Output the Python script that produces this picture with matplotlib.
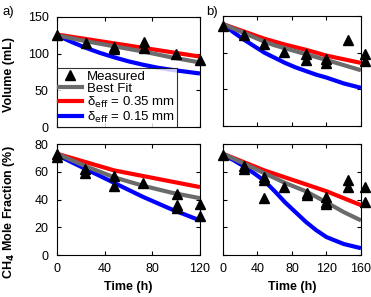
import matplotlib
matplotlib.use('Agg')
import matplotlib.pyplot as plt
from matplotlib.lines import Line2D

plt.rcParams['font.family'] = ['Liberation Sans', 'DejaVu Sans']
plt.rcParams['font.size'] = 9

# measured points (time h, value)
vol_a_t = [0, 24, 48, 48, 73, 73, 100, 120]
vol_a_y = [125, 115, 109, 106, 116, 108, 100, 91]
vol_b_t = [0, 24, 48, 71, 96, 96, 120, 120, 145, 165, 165]
vol_b_y = [137, 124, 112, 101, 98, 90, 92, 86, 117, 98, 88]
ch4_a_t = [0, 0, 23, 23, 48, 48, 72, 101, 101, 101, 120, 120]
ch4_a_y = [73, 71, 62, 59, 57, 50, 52, 44, 36, 34, 37, 28]
ch4_b_t = [0, 24, 24, 48, 48, 48, 71, 97, 97, 120, 120, 120, 145, 145, 165, 165]
ch4_b_y = [72, 64, 62, 56, 54, 41, 49, 45, 43, 42, 38, 37, 54, 49, 49, 38]

# model curves
t_a = [0, 12, 24, 36, 48, 60, 72, 84, 96, 108, 120]
vol_a_fit = [125, 121, 117, 113.5, 110, 106.5, 103, 99, 95, 91.5, 88]
vol_a_red = [126, 123, 120, 117, 114, 111, 108, 105, 102, 99, 96]
vol_a_blue = [125, 116, 108, 101, 95, 89.5, 85, 81, 78, 75.5, 73]
t_b = [0, 12, 24, 36, 48, 60, 72, 84, 96, 108, 120, 140, 160]
vol_b_fit = [139, 133, 127, 121, 115, 110, 106, 102, 98, 94, 90, 83, 76]
vol_b_red = [139, 134, 129, 124, 119, 115, 111, 107.5, 104, 100, 96, 91, 86]
vol_b_blue = [139, 128, 118, 109, 100, 93, 86, 80, 75, 70, 66, 58, 52]
ch4_a_fit = [73, 68.5, 64, 60, 56, 53, 50, 47.5, 45, 43, 41]
ch4_a_red = [73, 70, 67, 64, 61, 59, 57, 55, 53, 51, 49]
ch4_a_blue = [72, 67, 62, 57, 52, 47, 42, 37.5, 33, 29, 25]
ch4_b_fit = [73, 69.5, 66, 62.5, 59, 55.5, 52, 49, 46, 42, 38, 31, 25]
ch4_b_red = [73, 70, 67, 64, 61, 58.5, 56, 53.5, 51, 48.5, 46, 41, 36]
ch4_b_blue = [72, 68.5, 64, 59, 53.5, 46, 38, 31, 24, 18, 13, 8, 5]

gray = '#6b6b6b'
lw = 3

fig = plt.figure(figsize=(3.71, 2.97), dpi=100)
ax_a = fig.add_axes([0.154, 0.572, 0.385, 0.371])
ax_b = fig.add_axes([0.601, 0.576, 0.372, 0.370])
ax_c = fig.add_axes([0.154, 0.141, 0.385, 0.374])
ax_d = fig.add_axes([0.601, 0.141, 0.372, 0.374])

panels = [
    (ax_a, t_a, vol_a_fit, vol_a_red, vol_a_blue, vol_a_t, vol_a_y),
    (ax_b, t_b, vol_b_fit, vol_b_red, vol_b_blue, vol_b_t, vol_b_y),
    (ax_c, t_a, ch4_a_fit, ch4_a_red, ch4_a_blue, ch4_a_t, ch4_a_y),
    (ax_d, t_b, ch4_b_fit, ch4_b_red, ch4_b_blue, ch4_b_t, ch4_b_y),
]
for ax, t, fit, red, blue, mt, my in panels:
    ax.plot(t, blue, color='blue', lw=lw, solid_capstyle='butt')
    ax.plot(t, red, color='red', lw=lw, solid_capstyle='butt')
    ax.plot(t, fit, color=gray, lw=lw, solid_capstyle='butt')
    ax.plot(mt, my, '^', color='black', ms=7, clip_on=False, zorder=5)
    ax.tick_params(direction='in', top=True, right=True, length=3, pad=6)

ax_a.set_xlim(0, 120)
ax_c.set_xlim(0, 120)
ax_b.set_xlim(0, 160)
ax_d.set_xlim(0, 160)
for ax in (ax_a, ax_c):
    ax.set_xticks([0, 40, 80, 120])
for ax in (ax_b, ax_d):
    ax.set_xticks([0, 40, 80, 120, 160])
for ax in (ax_a, ax_b):
    ax.set_ylim(0, 150)
    ax.set_yticks([0, 50, 100, 150])
    ax.set_xticklabels([])
for ax in (ax_c, ax_d):
    ax.set_ylim(0, 80)
    ax.set_yticks([0, 20, 40, 60, 80])
    ax.set_xlabel('Time (h)', fontweight='bold', labelpad=4)
ax_b.set_yticklabels([])
ax_d.set_yticklabels([])

fig.text(0.025, 0.75, 'Volume (mL)', rotation=90,
         fontweight='bold', ha='center', va='center')
fig.text(0.025, 0.285, 'CH$_\\mathbf{4}$ Mole Fraction (%)', rotation=90,
         fontweight='bold', ha='center', va='center')

handles = [
    Line2D([], [], marker='^', color='black', ls='none', ms=7),
    Line2D([], [], color=gray, lw=lw),
    Line2D([], [], color='red', lw=lw),
    Line2D([], [], color='blue', lw=lw),
]
labels = ['Measured', 'Best Fit', 'δ$_{\\mathrm{eff}}$ = 0.35 mm',
          'δ$_{\\mathrm{eff}}$ = 0.15 mm']
leg = ax_a.legend(handles, labels, loc='lower left', bbox_to_anchor=(0, 0),
                  borderaxespad=0, frameon=True, fancybox=False,
                  handlelength=1.7, handletextpad=0.4, labelspacing=0.0,
                  borderpad=0.15, fontsize=9.5)
leg.get_frame().set_edgecolor('black')
leg.get_frame().set_linewidth(0.8)

fig.text(0.008, 0.958, 'a)', fontsize=9.5, va='center')
fig.text(0.555, 0.958, 'b)', fontsize=9.5, va='center')

fig.savefig('out.png', dpi=100)
